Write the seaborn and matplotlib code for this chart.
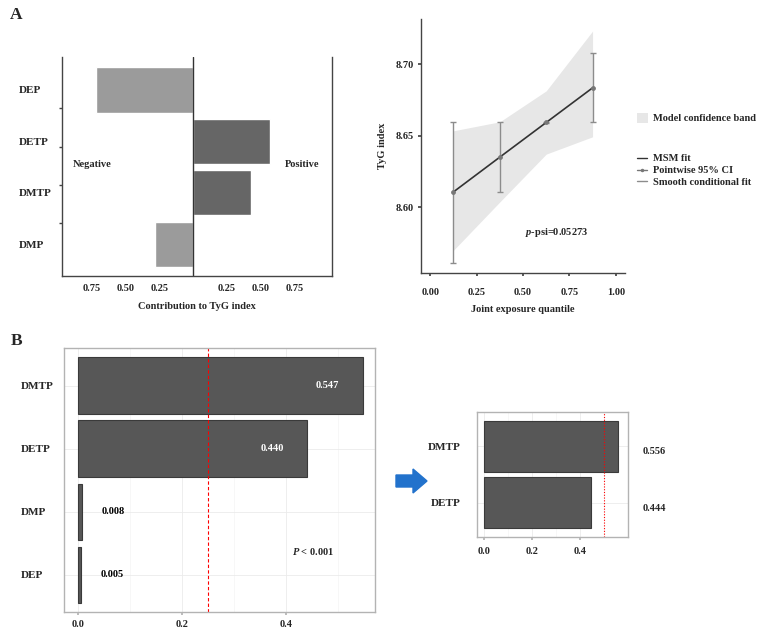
import numpy as np
import pandas as pd
import seaborn as sns
import matplotlib.pyplot as plt
from matplotlib.patches import Patch, FancyArrow
from matplotlib.lines import Line2D

# --- data ---
# A, left: weighted contributions (negative / positive)
wqs_comp = ["DEP", "DETP", "DMTP", "DMP"]
wqs_contrib = [-0.72, 0.57, 0.43, -0.28]

# A, right: joint exposure quantile
quantile = [0.125, 0.375, 0.625, 0.875]
msm_fit = [8.6107, 8.6350, 8.6592, 8.6834]
ci_low = [8.5613, 8.6103, 8.6590, 8.6594]
ci_high = [8.6596, 8.6596, 8.6594, 8.7079]
band_low = [8.5699, 8.6037, 8.6371, 8.6492]
band_high = [8.6534, 8.6597, 8.6813, 8.7231]

# B, left: weights
bkmr_comp = ["DMTP", "DETP", "DMP", "DEP"]
bkmr_weight = [0.547, 0.440, 0.008, 0.005]
bkmr_ref = 0.25

# B, right: weights within the retained group
grp_comp = ["DMTP", "DETP"]
grp_weight = [0.556, 0.444]
grp_ref = 0.5

sns.set_theme(style="white")
plt.rcParams["font.family"] = ["Liberation Serif", "DejaVu Serif"]
plt.rcParams["font.weight"] = "bold"
plt.rcParams["axes.labelweight"] = "bold"
plt.rcParams["mathtext.fontset"] = "custom"
plt.rcParams["mathtext.it"] = "Liberation Serif:italic:bold"
plt.rcParams["mathtext.rm"] = "Liberation Serif:bold"

fs = 7.5
fig = plt.figure(figsize=(7.59, 6.32), dpi=100)

# ---------------- A left ----------------
ax1 = fig.add_axes([0.0817, 0.5633, 0.3557, 0.3465])
df1 = pd.DataFrame({"comp": wqs_comp, "val": wqs_contrib})
df1["sign"] = np.where(df1["val"] < 0, "neg", "pos")
sns.barplot(data=df1, x="val", y="comp", hue="sign", orient="h",
            palette={"neg": "#9b9b9b", "pos": "#666666"}, dodge=False,
            width=0.88, legend=False, ax=ax1, saturation=1)
ax1.axvline(0, color="#333333", lw=1)
ax1.set_xlim(-0.97, 1.03)
ax1.set_ylim(3.62, -0.64)
ticks = [-0.75, -0.5, -0.25, 0.25, 0.5, 0.75]
ax1.set_xticks(ticks)
ax1.set_xticklabels([f"{abs(t):.2f}" for t in ticks], fontsize=fs, fontweight="bold")
ax1.tick_params(axis="x", length=0, pad=6)
ax1.set_yticks(range(len(wqs_comp)))
ax1.set_yticklabels(wqs_comp, fontsize=8, fontweight="bold")
ax1.tick_params(axis="y", which="major", length=0, pad=31)
for lbl in ax1.get_yticklabels():
    lbl.set_ha("left")
ax1.set_yticks([0.35, 1.11, 1.85, 2.59], minor=True)
ax1.tick_params(axis="y", which="minor", length=2, color="#444444", left=True)
ax1.set_xlabel("Contribution to TyG index", fontsize=fs, labelpad=6)
ax1.set_ylabel("")
ax1.spines["top"].set_visible(False)
for s in ["left", "right", "bottom"]:
    ax1.spines[s].set_color("#444444")
    ax1.spines[s].set_linewidth(1)
ax1.text(-0.75, 1.46, "Negative", fontsize=fs, ha="center", va="center")
ax1.text(0.81, 1.46, "Positive", fontsize=fs, ha="center", va="center")

# ---------------- A right ----------------
ax2 = fig.add_axes([0.5547, 0.568, 0.2688, 0.4019])
ax2.fill_between(quantile, band_low, band_high, color="#e7e7e7", lw=0, zorder=1)
err_lo = np.array(msm_fit) - np.array(ci_low)
err_hi = np.array(ci_high) - np.array(msm_fit)
ax2.errorbar(quantile, msm_fit, yerr=[err_lo, err_hi], fmt="none",
             ecolor="#8c8c8c", elinewidth=1, capsize=2.5, zorder=2)
sns.lineplot(x=quantile, y=msm_fit, color="#333333", lw=1.2, ax=ax2, zorder=3)
ax2.scatter(quantile, msm_fit, s=6, color="#777777", zorder=4)
ax2.set_xlim(-0.05, 1.05)
ax2.set_ylim(8.554, 8.7315)
ax2.set_xticks([0, 0.25, 0.5, 0.75, 1.0])
ax2.set_xticklabels(["0.00", "0.25", "0.50", "0.75", "1.00"], fontsize=fs, fontweight="bold")
ax2.set_yticks([8.60, 8.65, 8.70])
ax2.set_yticklabels(["8.60", "8.65", "8.70"], fontsize=fs, fontweight="bold")
ax2.tick_params(axis="x", length=2.5, color="#444444", bottom=True, pad=8)
ax2.tick_params(axis="y", length=2.5, color="#444444", left=True, pad=3)
ax2.spines["top"].set_visible(False)
ax2.spines["right"].set_visible(False)
for s in ["left", "bottom"]:
    ax2.spines[s].set_color("#444444")
    ax2.spines[s].set_linewidth(1)
ax2.set_xlabel("Joint exposure quantile", fontsize=fs, labelpad=6)
ax2.set_ylabel("TyG index", fontsize=fs, labelpad=6)
ax2.text(0.68, 8.5825, r"$\mathit{p}$-psi=0.05273", fontsize=fs, ha="center", va="center")

leg1 = fig.legend(handles=[Patch(facecolor="#e7e7e7", edgecolor="none")],
                  labels=["Model confidence band"], loc="center left",
                  bbox_to_anchor=(637 / 759, 1 - 118 / 632), frameon=False,
                  fontsize=fs, handlelength=1.1, handleheight=1.1, handletextpad=0.45,
                  borderpad=0, borderaxespad=0)
h2 = [Line2D([], [], color="#333333", lw=1),
      Line2D([], [], color="#777777", lw=1, marker=".", markersize=3),
      Line2D([], [], color="#8c8c8c", lw=1)]
leg2 = fig.legend(handles=h2, labels=["MSM fit", "Pointwise 95% CI", "Smooth conditional fit"],
                  loc="upper left", bbox_to_anchor=(637 / 759, 1 - 154 / 632), frameon=False,
                  fontsize=fs, handlelength=1.0, handletextpad=0.5, labelspacing=0.25,
                  borderpad=0, borderaxespad=0)

# ---------------- B left ----------------
ax3 = fig.add_axes([0.0843, 0.0316, 0.4098, 0.4177])
df3 = pd.DataFrame({"comp": bkmr_comp, "w": bkmr_weight})
ax3.set_axisbelow(True)
sns.barplot(data=df3, x="w", y="comp", orient="h", color="#575757", edgecolor="#3a3a3a",
            linewidth=0.8, width=0.9, saturation=1, ax=ax3)
ax3.set_xlim(-0.027, 0.571)
ax3.set_ylim(3.59, -0.6)
ax3.set_xticks([0, 0.2, 0.4])
ax3.set_xticks([0.1, 0.3, 0.5], minor=True)
ax3.set_xticklabels(["0.0", "0.2", "0.4"], fontsize=fs, fontweight="bold")
ax3.set_yticks(range(len(bkmr_comp)))
ax3.set_yticklabels(bkmr_comp, fontsize=8, fontweight="bold")
for lbl in ax3.get_yticklabels():
    lbl.set_ha("left")
ax3.tick_params(axis="y", length=2, color="#b3b3b3", pad=29)
ax3.tick_params(axis="x", which="major", length=2, color="#b3b3b3", pad=4, bottom=True)
ax3.tick_params(axis="x", which="minor", length=0)
ax3.grid(True, which="major", color="#ebebeb", lw=0.6)
ax3.grid(True, which="minor", axis="x", color="#f4f4f4", lw=0.5)
for s in ax3.spines.values():
    s.set_color("#b3b3b3")
    s.set_linewidth(1)
ax3.axvline(bkmr_ref, color="red", lw=0.8, ls=(0, (3, 2)))
for i, v in enumerate(bkmr_weight):
    if v > 0.1:
        ax3.text(v - 0.067, i, f"{v:.3f}", color="white", fontsize=fs, ha="center", va="center")
    else:
        ax3.text(v + 0.06, i, f"{v:.3f}", color="black", fontsize=fs, ha="center", va="center")
ax3.text(0.452, 2.63, r"$\mathit{P}$ < 0.001", fontsize=fs, ha="center", va="center")
ax3.set_xlabel("")
ax3.set_ylabel("")

# ---------------- B right ----------------
ax4 = fig.add_axes([0.6285, 0.1503, 0.199, 0.1978])
df4 = pd.DataFrame({"comp": grp_comp, "w": grp_weight})
ax4.set_axisbelow(True)
sns.barplot(data=df4, x="w", y="comp", orient="h", color="#575757", edgecolor="#3a3a3a",
            linewidth=0.8, width=0.9, saturation=1, ax=ax4)
ax4.set_xlim(-0.03, 0.6)
ax4.set_ylim(1.6, -0.6)
ax4.set_xticks([0, 0.2, 0.4])
ax4.set_xticks([0.1, 0.3, 0.5], minor=True)
ax4.set_xticklabels(["0.0", "0.2", "0.4"], fontsize=fs, fontweight="bold")
ax4.set_yticks(range(len(grp_comp)))
ax4.set_yticklabels(grp_comp, fontsize=8, fontweight="bold")
ax4.tick_params(axis="y", length=2, color="#b3b3b3", pad=10)
ax4.tick_params(axis="x", which="major", length=2, color="#b3b3b3", pad=5, bottom=True)
ax4.tick_params(axis="x", which="minor", length=0)
ax4.grid(True, which="major", color="#ebebeb", lw=0.6)
ax4.grid(True, which="minor", axis="x", color="#f4f4f4", lw=0.5)
for s in ax4.spines.values():
    s.set_color("#b3b3b3")
    s.set_linewidth(1)
ax4.axvline(grp_ref, color="red", lw=0.8, ls=(0, (1, 1.5)))
for i, v in enumerate(grp_weight):
    ax4.text(0.71, i + 0.1, f"{v:.3f}", fontsize=fs, ha="center", va="center", clip_on=False)
ax4.set_xlabel("")
ax4.set_ylabel("")

# arrow between the two B panels
fig.patches.append(FancyArrow(396 / 759, 1 - 481 / 632, 31 / 759, 0,
                              width=12 / 632, head_width=24 / 632, head_length=14 / 759,
                              length_includes_head=True, color="#2272cc",
                              transform=fig.transFigure, figure=fig))

# panel letters
fig.text(0.013, 1 - 15 / 632, "A", fontsize=12.5, fontweight="bold", va="center")
fig.text(0.014, 1 - 341 / 632, "B", fontsize=12.5, fontweight="bold", va="center")

fig.savefig("out.png", dpi=100)
